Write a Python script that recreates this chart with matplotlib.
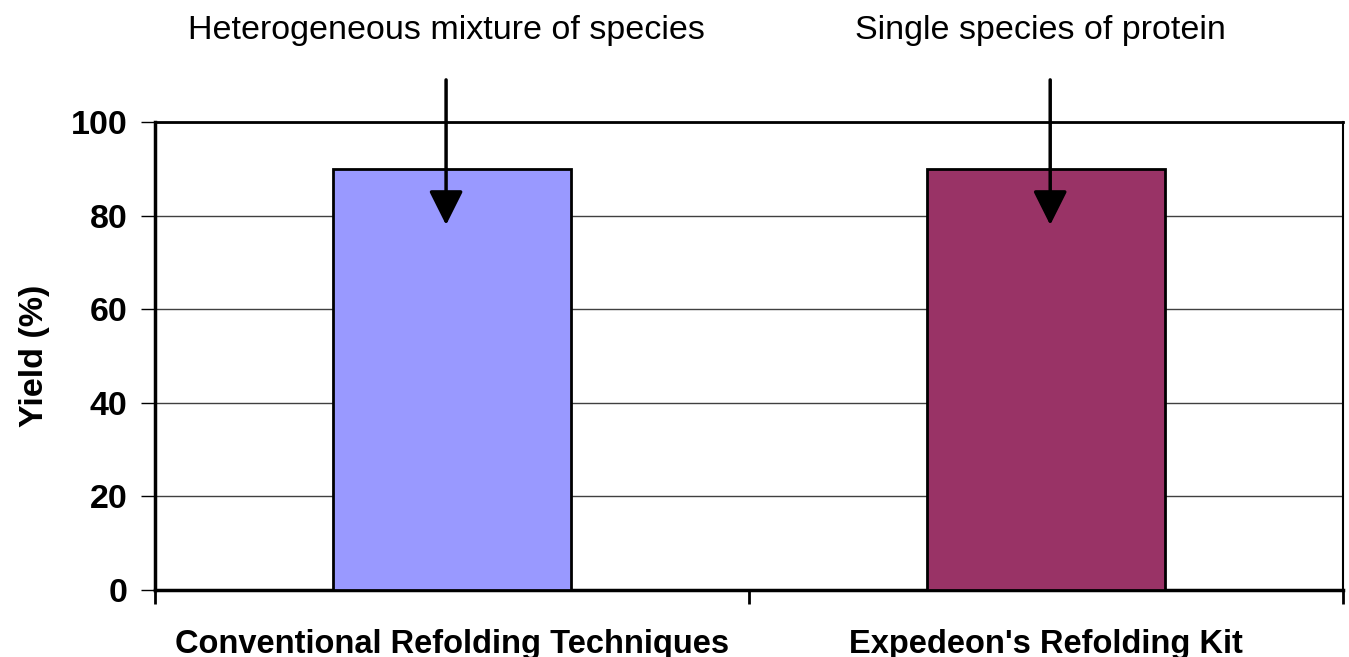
import matplotlib
matplotlib.use("Agg")
import matplotlib.pyplot as plt

categories = ["Conventional Refolding Techniques", "Expedeon's Refolding Kit"]
yields = [90, 90]
bar_colors = ["#9999FF", "#993366"]
annotations = ["Heterogeneous mixture of species", "Single species of protein"]
yticks = [0, 20, 40, 60, 80, 100]

plt.rcParams['font.family'] = ['Liberation Sans', 'DejaVu Sans']

fig = plt.figure(figsize=(13.49, 6.57), dpi=100)
ax = fig.add_axes([0.1149, 0.102, 0.8807, 0.7123])

x = list(range(len(categories)))
ax.bar(x, yields, width=0.4, color=bar_colors, edgecolor="black", linewidth=2, zorder=3)

ax.set_xlim(-0.5, len(categories) - 0.5)
ax.set_ylim(0, 100)
ax.set_yticks(yticks)
ax.set_yticklabels([str(t) for t in yticks], fontsize=24.5, fontweight="bold")
ax.yaxis.grid(True, color="#404040", linewidth=1, zorder=0)

ax.set_xticks(x)
ax.set_xticklabels(categories, fontsize=23.5, fontweight="bold")
ax.tick_params(axis="x", which="major", length=0, pad=28)
ax.set_xticks([i - 0.5 for i in range(len(categories) + 1)], minor=True)
ax.tick_params(axis="x", which="minor", length=10, width=2, direction="out")
ax.tick_params(axis="y", length=10, width=1, direction="out", pad=10)

ax.set_ylabel("Yield (%)", fontsize=24.5, fontweight="bold", labelpad=15)

for s in ["left", "bottom"]:
    ax.spines[s].set_linewidth(2.5)
ax.spines["top"].set_linewidth(2)
ax.spines["right"].set_linewidth(1.5)

for i, txt in enumerate(annotations):
    xi = i + (-0.01 if i == 0 else 0.007)
    ax.annotate("", xy=(xi, 78), xytext=(xi, 109),
                arrowprops=dict(arrowstyle="-|>,head_length=2.1,head_width=1.05",
                                mutation_scale=10,
                                color="black", lw=2.5, shrinkA=0, shrinkB=0),
                annotation_clip=False, zorder=5)
    ax.text(i - 0.01, 119.5, txt, ha="center", va="center", fontsize=24.5)

fig.savefig("out.png", dpi=100)
